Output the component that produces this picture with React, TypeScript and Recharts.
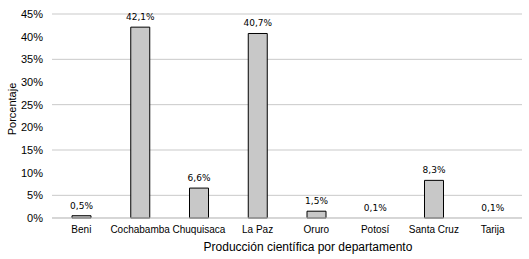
import React from 'react'
import { BarChart, Bar, XAxis, YAxis, CartesianGrid, LabelList, Label, Rectangle } from 'recharts'

const departamentos = ['Beni', 'Cochabamba', 'Chuquisaca', 'La Paz', 'Oruro', 'Potosí', 'Santa Cruz', 'Tarija']
const porcentajes = [0.5, 42.1, 6.6, 40.7, 1.5, 0.1, 8.3, 0.1]
const yTicks = [0, 5, 10, 15, 20, 25, 30, 35, 40, 45]

const data = departamentos.map((name, i) => ({ name, value: porcentajes[i] }))

const font = '"Liberation Sans", Arial, sans-serif'

const YLabel = (props: any) => {
  const { viewBox } = props
  const cx = 12
  const cy = viewBox.y + viewBox.height / 2 - 7
  return (
    <text
      x={cx}
      y={cy}
      transform={`rotate(-90, ${cx}, ${cy})`}
      textAnchor="middle"
      dominantBaseline="central"
      fontFamily={font}
      fontSize={11}
      fill="#000"
    >
      Porcentaje
    </text>
  )
}

// bars thinner than a pixel disappear into the baseline, as in the original
const BarShape = (props: any) => {
  if (Math.abs(props.height) < 1) return <g />
  return <Rectangle {...props} />
}

const App: React.FC = () => {
  return (
    <div style={{ position: 'absolute', left: 0, top: 0, width: 529, height: 259, background: '#fff' }}>
      <BarChart width={529} height={259} data={data} margin={{ top: 14, right: 7, bottom: 0, left: 0 }}>
        <CartesianGrid vertical={false} stroke="#c9c9c9" />
        <XAxis
          dataKey="name"
          height={41}
          tickLine={false}
          axisLine={{ stroke: '#c9c9c9' }}
          tick={{ fontFamily: font, fontSize: 10, fill: '#000' }}
          interval={0}
        >
          <Label
            value="Producción científica por departamento"
            position="insideBottom"
            offset={8}
            dx={21}
            style={{ fontFamily: font, fontSize: 12, fill: '#000' }}
          />
        </XAxis>
        <YAxis
          width={52}
          domain={[0, 45]}
          ticks={yTicks}
          tickFormatter={(v: number) => `${v}%`}
          tickLine={false}
          axisLine={false}
          tickMargin={3}
          tick={{ fontFamily: font, fontSize: 11, fill: '#000' }}
        >
          <Label content={YLabel} />
        </YAxis>
        <Bar
          dataKey="value"
          fill="#c8c8c8"
          stroke="#000"
          strokeWidth={1}
          barSize={19}
          shape={BarShape}
          isAnimationActive={false}
        >
          <LabelList
            dataKey="value"
            position="top"
            offset={7}
            formatter={(v: any) => `${Number(v).toFixed(1).replace('.', ',')}%`}
            style={{ fontFamily: '"DejaVu Sans", sans-serif', fontSize: 9, fill: '#000' }}
          />
        </Bar>
      </BarChart>
    </div>
  )
}

export default App
